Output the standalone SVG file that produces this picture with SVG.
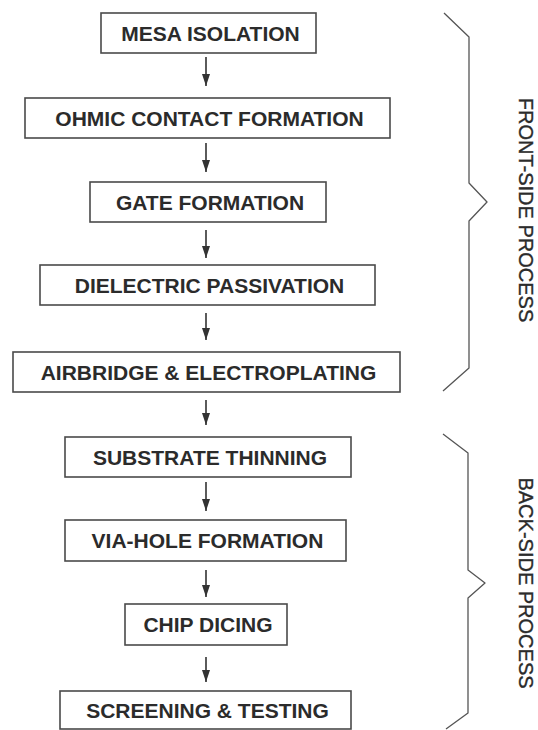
<svg xmlns="http://www.w3.org/2000/svg" width="538" height="730" viewBox="0 0 538 730">
  <defs>
    <style>
      .box rect { fill: #ffffff; stroke: #4a4a4a; stroke-width: 1.6; }
      .box text { font-family: "Liberation Sans", Arial, sans-serif; font-weight: bold; font-size: 21px; fill: #2b2b2b; text-anchor: middle; }
      .conn line { stroke: #333333; stroke-width: 1.6; marker-end: url(#head); }
      .brace { fill: none; stroke: #555555; stroke-width: 1.3; stroke-linejoin: round; }
      .side { font-family: "Liberation Sans", Arial, sans-serif; font-size: 20px; fill: #2b2b2b; text-anchor: middle; stroke: #2b2b2b; stroke-width: 0.35; }
    </style>
    <marker id="head" viewBox="0 0 12 8" refX="12" refY="4" markerWidth="12" markerHeight="8" markerUnits="userSpaceOnUse" orient="auto">
      <path d="M0,0 L12,4 L0,8 z" fill="#333333"/>
    </marker>
  </defs>

  <rect width="538" height="730" fill="#ffffff"/>

  <!-- process steps -->
  <g id="mesa-isolation" class="box">
    <rect x="101" y="13" width="215" height="40"/>
    <text x="210.5" y="40.5">MESA ISOLATION</text>
  </g>
  <g id="ohmic-contact" class="box">
    <rect x="25" y="98" width="365" height="40"/>
    <text x="209.5" y="125.5">OHMIC CONTACT FORMATION</text>
  </g>
  <g id="gate-formation" class="box">
    <rect x="90" y="182" width="236" height="40"/>
    <text x="210" y="209.5">GATE FORMATION</text>
  </g>
  <g id="dielectric-passivation" class="box">
    <rect x="40" y="265" width="335" height="40"/>
    <text x="209.5" y="292.5">DIELECTRIC PASSIVATION</text>
  </g>
  <g id="airbridge-electroplating" class="box">
    <rect x="13" y="352" width="387" height="40"/>
    <text x="208.5" y="379.5">AIRBRIDGE &amp; ELECTROPLATING</text>
  </g>
  <g id="substrate-thinning" class="box">
    <rect x="65" y="437" width="286" height="40"/>
    <text x="210" y="464.5">SUBSTRATE THINNING</text>
  </g>
  <g id="via-hole-formation" class="box">
    <rect x="65" y="520" width="281" height="41"/>
    <text x="207.5" y="548">VIA-HOLE FORMATION</text>
  </g>
  <g id="chip-dicing" class="box">
    <rect x="125" y="604" width="162" height="41"/>
    <text x="208" y="632">CHIP DICING</text>
  </g>
  <g id="screening-testing" class="box">
    <rect x="60" y="691" width="291" height="38"/>
    <text x="207.5" y="718">SCREENING &amp; TESTING</text>
  </g>

  <!-- flow arrows between steps -->
  <g id="connectors" class="conn">
    <line x1="206" y1="57" x2="206" y2="86"/>
    <line x1="206" y1="143" x2="206" y2="172"/>
    <line x1="206" y1="230" x2="206" y2="258"/>
    <line x1="206" y1="313" x2="206" y2="340"/>
    <line x1="206" y1="400" x2="206" y2="425"/>
    <line x1="206" y1="482" x2="206" y2="511"/>
    <line x1="206" y1="570" x2="206" y2="597"/>
    <line x1="206" y1="657" x2="206" y2="682"/>
  </g>

  <!-- grouping braces and their labels -->
  <g id="front-side">
    <path class="brace" d="M444,13 L469,37 L469,183 L487,202 L469,221 L469,368 L443,391"/>
    <text class="side" transform="translate(519,210) rotate(90)">FRONT-SIDE PROCESS</text>
  </g>
  <g id="back-side">
    <path class="brace" d="M443,434 L468,453 L468,570 L485,583 L468,598 L468,713 L446,729"/>
    <text class="side" transform="translate(519,583) rotate(90)">BACK-SIDE PROCESS</text>
  </g>
</svg>
